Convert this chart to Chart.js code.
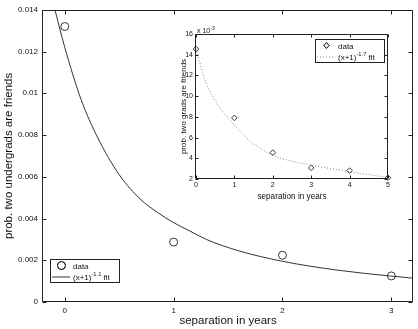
<!DOCTYPE html>
<html><head><meta charset="utf-8">
<script src="https://cdn.jsdelivr.net/npm/chart.js@4.4.0/dist/chart.umd.min.js"></script>
<style>
html,body{margin:0;padding:0;background:#fff;}
#wrap{position:relative;width:418px;height:329px;overflow:hidden;}
#main{position:absolute;left:0;top:0;width:418px;height:329px;}
#inset{position:absolute;left:175px;top:22px;width:217px;height:183px;}
</style></head><body>
<div id="wrap">
<canvas id="main" width="418" height="329"></canvas>
<canvas id="inset" width="217" height="183"></canvas>
</div>
<script>
const FONT = "'Liberation Sans', Arial, Helvetica, sans-serif";
const INK = '#111';

// ---- main plot (undergrads) ----
const mainYears = [0, 1, 2, 3];
const mainProb = [0.0132, 0.00287, 0.00224, 0.00125];
const mainFitYears = [-0.1, 0, 0.15, 0.3, 0.5, 0.7, 0.85, 1.0, 1.15, 1.3, 1.6, 2.0, 2.5, 3.0, 3.2];
const mainFitProb = [0.0142, 0.0122, 0.0097, 0.0079, 0.0061, 0.0049, 0.0043, 0.0038, 0.0034, 0.0030, 0.00245, 0.00195, 0.00153, 0.00124, 0.00114];
const mainXTicks = [0, 1, 2, 3];
const mainYTicks = [0, 0.002, 0.004, 0.006, 0.008, 0.01, 0.012, 0.014];

// ---- inset plot (grads) ----
const insetYears = [0, 1, 2, 3, 4, 5];
const insetProb = [0.01455, 0.0079, 0.00455, 0.00307, 0.00281, 0.00212];
const insetFitYears = [0, 0.23, 0.45, 0.7, 1, 1.4, 2, 3, 4, 5];
const insetFitProb = [0.0146, 0.0116, 0.0099, 0.0085, 0.0072, 0.0057, 0.0043, 0.00335, 0.0027, 0.00215];
const insetXTicks = [0, 1, 2, 3, 4, 5];
const insetYTicks = [0.002, 0.004, 0.006, 0.008, 0.010, 0.012, 0.014, 0.016];

function pts(xs, ys) { return xs.map((x, i) => ({x: x, y: ys[i]})); }

// parse "a^{b} c" into segments
function segs(label) {
  const out = [];
  const re = /\^\{([^}]*)\}/g;
  let last = 0, m;
  while ((m = re.exec(label)) !== null) {
    if (m.index > last) out.push({t: label.slice(last, m.index), sup: false});
    out.push({t: m[1], sup: true});
    last = re.lastIndex;
  }
  if (last < label.length) out.push({t: label.slice(last), sup: false});
  return out;
}

function drawRich(ctx, x, y, label, size) {
  let cx = x;
  for (const s of segs(label)) {
    const fs = s.sup ? size * 0.72 : size;
    ctx.font = fs + 'px ' + FONT;
    ctx.fillText(s.t, cx, s.sup ? y - size * 0.42 : y);
    cx += ctx.measureText(s.t).width;
  }
}

const frame = {
  id: 'frame',
  beforeDraw(chart, args, o) {
    if (!o.bg) return;
    const {ctx, chartArea: a} = chart;
    ctx.save(); ctx.fillStyle = o.bg;
    ctx.fillRect(a.left, a.top, a.right - a.left, a.bottom - a.top);
    ctx.restore();
  },
  afterDatasetsDraw(chart, args, o) {
    const {ctx, chartArea: a, scales: {x, y}} = chart;
    const L = o.len;
    const l = Math.round(a.left) - 0.5, r = Math.round(a.right) - 0.5;
    const t = Math.round(a.top) + 0.5, b = Math.round(a.bottom) - 0.5;
    ctx.save();
    ctx.strokeStyle = '#222'; ctx.lineWidth = 1;
    ctx.beginPath();
    ctx.rect(l, t, r - l, b - t);
    x.ticks.forEach(tk => {
      const px = Math.round(x.getPixelForValue(tk.value)) + 0.5;
      ctx.moveTo(px, b); ctx.lineTo(px, b - L);
      ctx.moveTo(px, t); ctx.lineTo(px, t + L);
    });
    y.ticks.forEach(tk => {
      const py = Math.round(y.getPixelForValue(tk.value)) + 0.5;
      ctx.moveTo(l, py); ctx.lineTo(l + L, py);
      ctx.moveTo(r, py); ctx.lineTo(r - L, py);
    });
    ctx.stroke();
    ctx.restore();
  },
  afterDraw(chart, args, o) {
    const {ctx, chartArea: a} = chart;
    ctx.save();
    ctx.fillStyle = INK;
    ctx.textBaseline = 'alphabetic';
    if (o.exponent) {
      drawRich(ctx, a.left + 1, a.top - 1.5, o.exponent, 7);
    }
    const lg = o.legend;
    const bx = lg.anchor === 'br' ? a.left + lg.dx : a.right - lg.dx - lg.w;
    const by = lg.anchor === 'br' ? a.bottom - lg.dy - lg.h : a.top + lg.dy;
    ctx.fillStyle = '#fff';
    ctx.fillRect(bx, by, lg.w, lg.h);
    ctx.strokeStyle = '#222'; ctx.lineWidth = 1;
    ctx.strokeRect(Math.round(bx) + 0.5, Math.round(by) + 0.5, lg.w, lg.h);
    lg.order.forEach((di, row) => {
      const ds = chart.data.datasets[di];
      const cy = by + 6.5 + row * 11;
      ctx.save();
      ctx.strokeStyle = ds.borderColor;
      ctx.lineWidth = ds.borderWidth || 1;
      if (ds.showLine === false) {
        Chart.helpers.drawPoint(ctx, {pointStyle: ds.pointStyle, radius: ds.pointRadius, borderWidth: ds.borderWidth}, bx + 11.5, cy);
        ctx.stroke();
      } else {
        ctx.setLineDash(ds.borderDash || []);
        ctx.beginPath();
        ctx.moveTo(bx + 2, cy + 0.5); ctx.lineTo(bx + 20, cy + 0.5);
        ctx.stroke();
      }
      ctx.restore();
      ctx.fillStyle = INK;
      drawRich(ctx, bx + 23, cy + 3, ds.label, 8);
    });
    ctx.restore();
  }
};

function makeScales(cfg) {
  return {
    x: {
      type: 'linear', min: cfg.xmin, max: cfg.xmax,
      afterBuildTicks: s => { s.ticks = cfg.xticks.map(v => ({value: v})); },
      afterFit: s => { s.height = cfg.xh; },
      grid: {display: false, drawTicks: false},
      border: {display: false},
      ticks: {font: {family: FONT, size: cfg.tick}, color: INK, padding: cfg.xpad, maxRotation: 0, autoSkip: false,
               callback: cfg.xfmt},
      title: {display: true, text: 'separation in years', color: INK,
              font: {family: FONT, size: cfg.xtitle}, padding: {top: 0, bottom: cfg.xtpad}}
    },
    y: {
      type: 'linear', min: cfg.ymin, max: cfg.ymax,
      afterBuildTicks: s => { s.ticks = cfg.yticks.map(v => ({value: v})); },
      afterFit: s => { s.width = cfg.yw; },
      grid: {display: false, drawTicks: false},
      border: {display: false},
      ticks: {font: {family: FONT, size: cfg.tick}, color: INK, padding: cfg.ypad, autoSkip: false,
              callback: cfg.yfmt},
      title: {display: true, text: cfg.ytext, color: INK,
              font: {family: FONT, size: cfg.ytitle}, padding: {top: cfg.ytpad, bottom: 0}}
    }
  };
}

new Chart(document.getElementById('main'), {
  type: 'line',
  data: {
    datasets: [
      {label: 'data', data: pts(mainYears, mainProb), showLine: false, pointStyle: 'circle',
       pointRadius: 4, pointHoverRadius: 4, borderColor: '#222', backgroundColor: 'rgba(0,0,0,0)', borderWidth: 0.9, clip: false},
      {label: '(x+1)^{-1.1} fit', data: pts(mainFitYears, mainFitProb), pointRadius: 0,
       borderColor: '#333', borderWidth: 1, cubicInterpolationMode: 'monotone', fill: false, clip: 0}
    ]
  },
  options: {
    responsive: false, animation: false, events: [],
    layout: {padding: {top: 8, right: 3, left: 0, bottom: 0}},
    plugins: {legend: {display: false}, tooltip: {enabled: false},
      frame: {len: 4, legend: {anchor: 'br', dx: 7, dy: 20, w: 69, h: 23, order: [0, 1]}}},
    scales: makeScales({xmin: -0.2, xmax: 3.2, ymin: 0, ymax: 0.014, xticks: mainXTicks, yticks: mainYTicks,
      xh: 27, yw: 43, tick: 8, xpad: 3.5, ypad: 5, xtitle: 11.5, xtpad: 1, ytitle: 11.5, ytpad: 2,
      ytext: 'prob. two undergrads are friends',
      xfmt: v => String(v), yfmt: v => String(v)})
  },
  plugins: [frame]
});

new Chart(document.getElementById('inset'), {
  type: 'line',
  data: {
    datasets: [
      {label: 'data', data: pts(insetYears, insetProb), showLine: false, pointStyle: 'rectRot',
       pointRadius: 2.8, pointHoverRadius: 2.8, borderColor: '#222', backgroundColor: 'rgba(0,0,0,0)', borderWidth: 0.9, clip: false},
      {label: '(x+1)^{-1.7} fit', data: pts(insetFitYears, insetFitProb), pointRadius: 0,
       borderColor: '#888', borderWidth: 1, borderDash: [1, 2], cubicInterpolationMode: 'monotone', fill: false, clip: 0}
    ]
  },
  options: {
    responsive: false, animation: false, events: [],
    layout: {padding: {top: 12, right: 4, left: 0, bottom: 0}},
    plugins: {legend: {display: false}, tooltip: {enabled: false},
      frame: {bg: '#fff', len: 3, exponent: 'x 10^{-3}', legend: {anchor: 'tr', dx: 4, dy: 5, w: 69, h: 23, order: [0, 1]}}},
    scales: makeScales({xmin: 0, xmax: 5, ymin: 0.002, ymax: 0.016, xticks: insetXTicks, yticks: insetYTicks,
      xh: 26, yw: 21, tick: 7, xpad: 2, ypad: 3, xtitle: 8.2, xtpad: 3, ytitle: 8, ytpad: 4,
      ytext: 'prob. two grads are friends',
      xfmt: v => String(v), yfmt: v => String(Math.round(v * 1000))})
  },
  plugins: [frame]
});
</script>
</body></html>
